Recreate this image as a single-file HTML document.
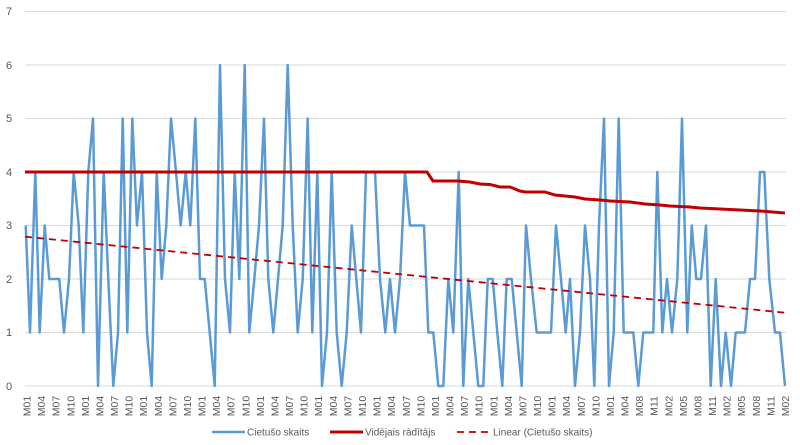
<!DOCTYPE html>
<html><head><meta charset="utf-8"><style>
body{margin:0;background:#fff;}
svg{display:block;font-family:"Liberation Sans",sans-serif;}
</style></head><body>
<svg id="s" width="800" height="445" viewBox="0 0 800 445">
<g stroke="#d9d9d9" stroke-width="1">
<line x1="25" x2="786" y1="11.5" y2="11.5"/>
<line x1="25" x2="786" y1="65" y2="65"/>
<line x1="25" x2="786" y1="118.5" y2="118.5"/>
<line x1="25" x2="786" y1="172" y2="172"/>
<line x1="25" x2="786" y1="225.5" y2="225.5"/>
<line x1="25" x2="786" y1="279" y2="279"/>
<line x1="25" x2="786" y1="332.5" y2="332.5"/>
<line x1="25" x2="786" y1="386" y2="386"/>
</g>
<g fill="#595959" font-size="11" text-anchor="middle">
<text x="9" y="15">7</text><text x="9" y="69">6</text><text x="9" y="122">5</text><text x="9" y="176">4</text>
<text x="9" y="229">3</text><text x="9" y="283">2</text><text x="9" y="336">1</text><text x="9" y="390">0</text>
</g>
<g id="xl" fill="#595959" font-size="10.5"></g>
<polyline id="blue" fill="none" stroke="#5b9bd5" stroke-width="2.5" stroke-linejoin="round"/>
<polyline fill="none" stroke="#c00000" stroke-width="3" points="25,172 427,172 433,181 458,181 470,182 480,184 490,184.5 500,187 510,187 520,191 525,192 545,192 555,195 575,197 585,199 600,200 610,201 630,202 645,204 660,205 670,206 690,207 700,208 720,209 740,210 760,211 785,213"/>
<line x1="25" y1="236.7" x2="785" y2="312.7" stroke="#c00000" stroke-width="1.8" stroke-dasharray="7,5"/>
<g font-size="10" fill="#595959">
<line x1="212" y1="432" x2="245" y2="432" stroke="#5b9bd5" stroke-width="2.5"/>
<text x="247" y="435.5">Cietušo skaits</text>
<line x1="330" y1="432" x2="363" y2="432" stroke="#c00000" stroke-width="3"/>
<text x="365" y="435.5">Vidējais rādītājs</text>
<line x1="457" y1="432" x2="490" y2="432" stroke="#c00000" stroke-width="1.8" stroke-dasharray="7,5"/>
<text x="493" y="435.5">Linear (Cietušo skaits)</text>
</g>
</svg>
<script>
var d=[[25.7,3],[30,1],[35.3,4],[39.7,1],[44.7,3],[49.3,2],[59.3,2],[64,1],[69,2],[73.7,4],[78.7,3],[83.3,1],[88.3,4],[93,5],[98,0],[103.7,4],[108.3,2],[113.3,0],[118,1],[122.7,5],[127.3,1],[132.3,5],[137,3],[142,4],[147,1],[151.7,0],[156.7,4],[161.7,2],[166.3,3],[171,5],[176,4],[180.7,3],[185.7,4],[190.3,3],[195.3,5],[200,2],[204.7,2],[209.7,1],[214.7,0],[220,6],[225,2],[230,1],[234.7,4],[239.3,2],[244.7,6],[249.3,1],[254.3,2],[259,3],[264,5],[268.3,2],[273.3,1],[278,2],[282.7,3],[287.7,6],[292.7,3],[297.7,1],[302.7,2],[307.7,5],[312.3,1],[317.3,4],[322,0],[327,1],[331.7,4],[336.7,1],[341.7,0],[346.7,1],[351.7,3],[356.3,2],[361,1],[366,4],[375,4],[380,2],[385.3,1],[390,2],[395,1],[400,2],[405,4],[410,3],[424,3],[428.3,1],[433.3,1],[438.3,0],[443.3,0],[448.3,2],[453.3,1],[458.7,4],[463.3,0],[468.3,2],[473.3,1],[478.3,0],[483.3,0],[487.7,2],[492.7,2],[497.3,1],[502.3,0],[506.7,2],[511.7,2],[516.7,1],[521.7,0],[526,3],[531,2],[536.7,1],[551,1],[556,3],[561,2],[565.7,1],[570,2],[575,0],[580,1],[585,3],[590,2],[594.3,0],[599,3],[604,5],[609,0],[613.7,1],[618.7,5],[623.7,1],[633.3,1],[638.3,0],[643.3,1],[653.3,1],[657.3,4],[662.3,1],[667,2],[672,1],[677.3,2],[682,5],[687.3,1],[691.7,3],[696.3,2],[701,2],[706,3],[710.7,0],[715.7,2],[721,0],[725.7,1],[731,0],[735.7,1],[745,1],[750,2],[755,2],[760,4],[764.3,4],[769.3,2],[775,1],[780,1],[785,0]];
document.getElementById('blue').setAttribute('points',d.map(function(p){return p[0]+','+(386-53.5*p[1]).toFixed(1)}).join(' '));
var L=[];for(var k=0;k<10;k++)L.push('M01','M04','M07','M10');
L.push('M01','M04','M08','M11','M02','M05','M08','M11','M02','M05','M08','M11','M02');
var n=L.length,g=document.getElementById('xl'),h='';
for(var i=0;i<n;i++){var x=26.5+i*(785-26.5)/(n-1)+4;h+='<text transform="translate('+x.toFixed(1)+',406) rotate(-90)" text-anchor="middle">'+L[i]+'</text>';}
g.innerHTML=h;
</script>
</body></html>
